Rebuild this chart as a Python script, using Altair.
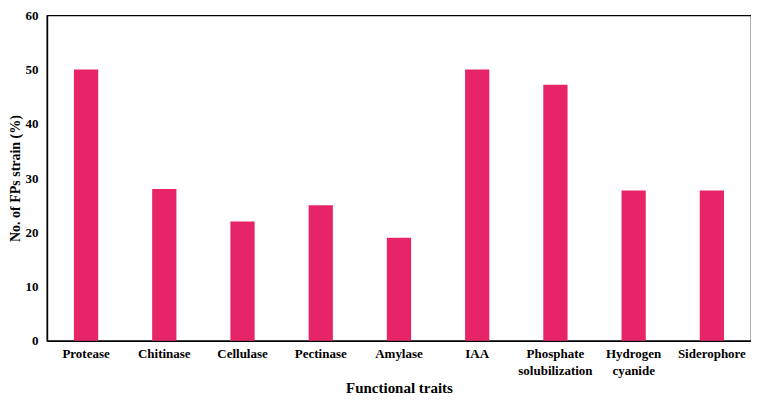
import altair as alt
import pandas as pd

traits = ["Protease", "Chitinase", "Cellulase", "Pectinase", "Amylase", "IAA",
          "Phosphate solubilization", "Hydrogen cyanide", "Siderophore"]
values = [50, 28, 22, 25, 19, 50, 47.2, 27.7, 27.7]

df = pd.DataFrame({"trait": traits, "value": values})

font = "Liberation Serif"

chart = alt.Chart(df).mark_bar(color="#E82468").encode(
    x=alt.X("trait:N", sort=traits,
            scale=alt.Scale(paddingInner=0.69, paddingOuter=0.345),
            axis=alt.Axis(title="Functional traits", labelAngle=0,
                          labelExpr="split(datum.label, ' ')",
                          labelFont=font, labelFontSize=13, labelFontWeight="bold",
                          labelColor="black", labelLineHeight=17, labelPadding=7,
                          ticks=False, domainColor="black", domainWidth=1.5,
                          titleFont=font, titleFontSize=15, titleFontWeight="bold",
                          titleColor="black", titlePadding=3)),
    y=alt.Y("value:Q", scale=alt.Scale(domain=[0, 60]),
            axis=alt.Axis(title="No. of  FPs strain (%)", values=[0, 10, 20, 30, 40, 50, 60],
                          grid=False, ticks=False, domainColor="black", domainWidth=1.5,
                          labelFont=font, labelFontSize=13, labelFontWeight="bold",
                          labelColor="black", labelPadding=9,
                          titleFont=font, titleFontSize=14, titleFontWeight="bold",
                          titleColor="black", titlePadding=2)),
).properties(
    width=705, height=326,
    autosize=alt.AutoSizeParams(type="none"),
    padding={"left": 39, "top": 7, "right": 0, "bottom": 59},
).configure_view(stroke="black", strokeWidth=1.2)

chart.save("out.html", embed_options={"renderer": "svg", "actions": False})
